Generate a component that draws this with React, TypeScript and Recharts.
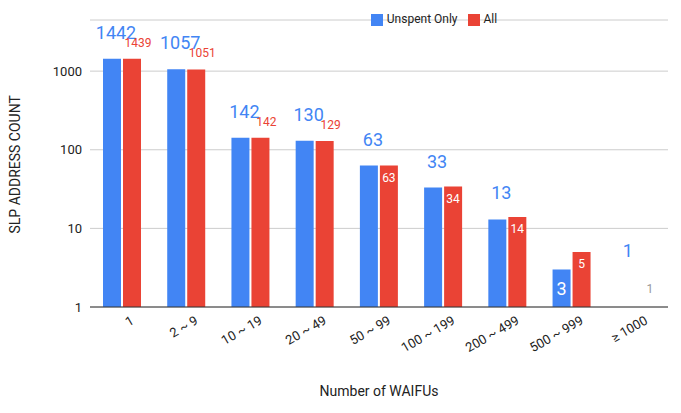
import React from "react";
import { BarChart, Bar, XAxis, YAxis, CartesianGrid, Legend, ReferenceDot } from "recharts";

const categories = ["1", "2 ~ 9", "10 ~ 19", "20 ~ 49", "50 ~ 99", "100 ~ 199", "200 ~ 499", "500 ~ 999", "≥ 1000"];
const unspent = [1442, 1057, 142, 130, 63, 33, 13, 3, 1];
const all = [1439, 1051, 142, 129, 63, 34, 14, 5, 1];

const data = categories.map((c, i) => ({ name: c, unspent: unspent[i], all: all[i] }));

const BLUE = "#4285F4";
const RED = "#EA4335";

const BlueLabel = (p: any) => {
  const { x, y, width, height, value } = p;
  if (!height || height <= 0) return null;
  if (height > 10 && value < 10) {
    return (
      <text x={x + width / 2} y={y + height / 2 + 7} fill="#fff" fontSize={18} textAnchor="middle">{value}</text>
    );
  }
  return (
    <text x={x + width / 2 + 4} y={y - 20} fill={BLUE} fontSize={18} textAnchor="middle">{value}</text>
  );
};

const RedLabel = (p: any) => {
  const { x, y, width, height, value } = p;
  if (!height || height <= 0) return null;
  if (value < 100 && height > 10) {
    return (
      <text x={x + width / 2} y={y + 16} fill="#fff" fontSize={12} textAnchor="middle">{value}</text>
    );
  }
  return (
    <text x={x + width / 2 + 6} y={y - 12} fill={RED} fontSize={12} textAnchor="middle">{value}</text>
  );
};

const order: Record<string, number> = { unspent: 0, all: 1 };

export default function App() {
  const last = categories[categories.length - 1];
  return (
    <div style={{ position: "absolute", left: 0, top: 0, fontFamily: "Roboto" }}>
      <BarChart width={681} height={413} data={data} margin={{ top: 6, right: 13, bottom: 12, left: 30 }} barGap={2}>
        <CartesianGrid vertical={false} stroke="#ccc" />
        <XAxis
          dataKey="name"
          tickLine={false}
          axisLine={{ stroke: "#333" }}
          angle={-30}
          textAnchor="end"
          interval={0}
          height={94}
          tick={{ fontSize: 13, fill: "#222", dx: 8 }}
          label={{ value: "Number of WAIFUs", position: "insideBottom", offset: 5, fill: "#222", fontSize: 14 }}
        />
        <YAxis
          scale="log"
          domain={[1, 4470]}
          ticks={[1, 10, 100, 1000]}
          allowDataOverflow
          axisLine={false}
          tickLine={false}
          width={60}
          tick={{ fontSize: 13, fill: "#222" }}
          label={{ value: "SLP ADDRESS COUNT", angle: -90, position: "insideLeft", offset: -15, dy: 70, fill: "#222", fontSize: 14 }}
        />
        <Legend
          verticalAlign="top"
          align="center"
          iconType="square"
          iconSize={12}
          itemSorter={(item: any) => order[item.dataKey] ?? 0}
          wrapperStyle={{ top: 12, left: 120, fontSize: 12 }}
          formatter={(v: string) => <span style={{ color: "#222" }}>{v}</span>}
        />
        <Bar dataKey="unspent" name="Unspent Only" fill={BLUE} barSize={18} isAnimationActive={false} label={BlueLabel} />
        <Bar dataKey="all" name="All" fill={RED} barSize={18} isAnimationActive={false} label={RedLabel} />
        <ReferenceDot
          x={last}
          y={unspent[unspent.length - 1]}
          r={0}
          label={(p: any) => (
            <text x={p.viewBox.x - 8} y={p.viewBox.y - 50} fill={BLUE} fontSize={18} textAnchor="middle">{unspent[unspent.length - 1]}</text>
          )}
        />
        <ReferenceDot
          x={last}
          y={all[all.length - 1]}
          r={0}
          label={(p: any) => (
            <text x={p.viewBox.x + 14} y={p.viewBox.y - 14} fill="#999" fontSize={12} textAnchor="middle">{all[all.length - 1]}</text>
          )}
        />
      </BarChart>
    </div>
  );
}
